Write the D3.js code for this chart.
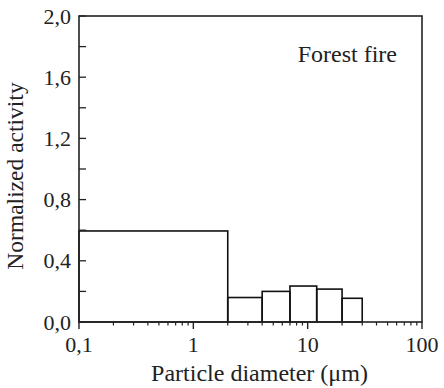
<!doctype html>
<html>
<head>
    <meta charset="utf-8">
    <script src="https://d3js.org/d3.v7.min.js"></script>
</head>
<body style="margin:0">
<script>
    // bin edges (um) and normalized activity per bin
    var binLo = [0.1, 2, 4, 7, 12, 20];
    var binHi = [2, 4, 7, 12, 20, 30];
    var activity = [0.595, 0.16, 0.2, 0.235, 0.215, 0.155];

    var yTicks = [0, 0.4, 0.8, 1.2, 1.6, 2.0];
    var yMinor = [0.2, 0.6, 1.0, 1.4, 1.8];
    var xTicks = [0.1, 1, 10, 100];

    var W = 444, H = 388;
    var m = {left: 79, right: 22, top: 16, bottom: 66};

    var svg = d3.select("body").append("svg")
        .attr("width", W).attr("height", H);

    var x = d3.scaleLog().domain([0.1, 100]).range([m.left, W - m.right]);
    var y = d3.scaleLinear().domain([0, 2]).range([H - m.bottom, m.top]);

    var fmt = function(d) { return d3.format(".1f")(d).replace(".", ","); };

    // bars
    svg.append("g").selectAll("rect")
        .data(activity)
        .enter().append("rect")
        .attr("x", function(d, i) { return x(binLo[i]); })
        .attr("width", function(d, i) { return x(binHi[i]) - x(binLo[i]); })
        .attr("y", function(d) { return y(d); })
        .attr("height", function(d) { return y(0) - y(d); })
        .attr("fill", "none")
        .attr("stroke", "#111")
        .attr("stroke-width", 1.6);

    // frame
    svg.append("rect")
        .attr("x", x(0.1)).attr("y", y(2))
        .attr("width", x(100) - x(0.1)).attr("height", y(0) - y(2))
        .attr("fill", "none").attr("stroke", "#222").attr("stroke-width", 1.6);

    // x axis, log ticks pointing outward
    var minorX = [];
    [0.1, 1, 10].forEach(function(dec) {
        for (var k = 2; k <= 9; k++) minorX.push(dec * k);
    });
    var gx = svg.append("g").attr("transform", "translate(0," + y(0) + ")");
    gx.selectAll(".mn").data(minorX).enter().append("line")
        .attr("x1", function(d) { return x(d); }).attr("x2", function(d) { return x(d); })
        .attr("y1", 0).attr("y2", 3.5)
        .attr("stroke", "#222").attr("stroke-width", 1.2);
    gx.selectAll(".mj").data(xTicks).enter().append("line")
        .attr("x1", function(d) { return x(d); }).attr("x2", function(d) { return x(d); })
        .attr("y1", 0).attr("y2", 7)
        .attr("stroke", "#222").attr("stroke-width", 1.4);

    // y axis, ticks pointing inward
    var gy = svg.append("g").attr("transform", "translate(" + x(0.1) + ",0)");
    gy.selectAll(".t").data(yTicks.concat(yMinor)).enter().append("line")
        .attr("x1", 0).attr("x2", 7)
        .attr("y1", function(d) { return y(d); }).attr("y2", function(d) { return y(d); })
        .attr("stroke", "#222").attr("stroke-width", 1.3);

    var labels = [];
    xTicks.forEach(function(d) {
        labels.push({x: x(d), y: y(0) + 30, anchor: "middle", size: 22, rot: false,
                     t: d < 1 ? String(d).replace(".", ",") : String(d)});
    });
    yTicks.forEach(function(d) {
        labels.push({x: x(0.1) - 8, y: y(d) + 7.5, anchor: "end", size: 22, rot: false, t: fmt(d)});
    });
    labels.push({x: (x(0.1) + x(100)) / 2 + 9, y: 381, anchor: "middle", size: 24, rot: false,
                 t: "Particle diameter (\u03bcm)"});
    labels.push({x: 23, y: 176, anchor: "middle", size: 23.5, rot: true,
                 t: "Normalized activity"});
    labels.push({x: 397, y: 62, anchor: "end", size: 24, rot: false, t: "Forest fire"});

    svg.append("g").selectAll("text").data(labels).enter().append("text")
        .attr("transform", function(d) {
            return "translate(" + d.x + "," + d.y + ")" + (d.rot ? " rotate(-90)" : "");
        })
        .attr("text-anchor", function(d) { return d.anchor; })
        .style("font-family", "Liberation Serif")
        .style("font-size", function(d) { return d.size + "px"; })
        .style("fill", "#222")
        .text(function(d) { return d.t; });
</script>
</body>
</html>
